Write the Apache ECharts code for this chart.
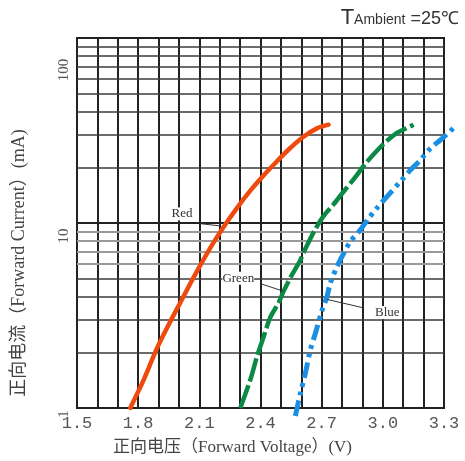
<!DOCTYPE html>
<html><head><meta charset="utf-8">
<script src="https://cdn.jsdelivr.net/npm/echarts@6/dist/echarts.min.js"></script>
<style>html,body{margin:0;padding:0;background:#fff}#c{width:465px;height:461px}</style>
</head><body><div id="c"></div>
<script>
// ---- data ----
const redV   = [1.761,1.827,1.892,1.949,2.007,2.064,2.105,2.162,2.219,2.285,2.350,2.415,2.481,2.546,2.611,2.677,2.734];
const redI   = [1.00,1.42,2.10,2.81,3.72,4.90,5.92,7.60,9.52,12.08,14.96,18.07,21.57,25.43,29.26,32.46,34.0];
const greenV = [2.301,2.350,2.383,2.415,2.448,2.489,2.513,2.554,2.595,2.620,2.665,2.709,2.758,2.808,2.865,2.914,2.971,3.020,3.069,3.102,3.151];
const greenI = [1.00,1.42,1.90,2.42,3.09,3.71,4.27,5.24,6.29,7.25,9.10,10.9,12.6,14.8,17.7,20.9,24.6,27.8,30.7,32.0,34.0];
const blueV  = [2.571,2.595,2.620,2.644,2.669,2.702,2.726,2.742,2.775,2.808,2.840,2.889,2.930,2.971,3.028,3.086,3.135,3.184,3.234,3.283,3.355];
const blueI  = [1.00,1.31,1.68,2.23,2.73,3.63,4.27,5.03,6.16,7.25,8.36,9.64,11.1,12.6,14.8,17.4,20.0,22.6,26.1,28.9,34.0];

const xTickLabels = ['1.5','1.8','2.1','2.4','2.7','3.0','3.3'];
const yTickLabels = ['1','10','100'];
const yMinorDark  = [2,3,4,5,20,30,40,50,60,70,80,90];
const yMinorLight = [6,7,8,9];

const seriesNames = ['Red','Green','Blue'];
// annotation anchors in data units: [text V, text I, leader start V, I, leader end V, I]
const redNote   = [2.015,11.2, 2.105,9.92, 2.203,9.64];
const greenNote = [2.291,5.02, 2.405,4.68, 2.515,4.27];
const blueNote  = [3.022,3.28, 2.728,3.86, 2.899,3.49];

const pairs = (xs, ys) => xs.map((x, i) => [x, ys[i]]);

// layout
const W = 465, L = 77, R = 21, T = 38, B = 45;
const xMin = 1.5, xMax = 3.3, xMaxExt = 3.4;          // blue curve runs past the frame
const plotW = W - L - R;
const extW = plotW * (xMaxExt - xMin) / (xMax - xMin);  // same V-per-pixel scale

const chart = echarts.init(document.getElementById('c'), null, {renderer:'canvas'});
const serif = 'Liberation Serif, "Noto Sans CJK SC", serif';
const yLabelStyle = {fontFamily:'Liberation Serif', fontSize:15, color:'#555'};

const option = {
  animation: false,
  backgroundColor: '#fff',
  title: {
    text: '{t|T}{a|Ambient}{b| =25℃}',
    right: 1, top: 2,
    textStyle: {
      fontWeight:'normal',
      rich: {
        t: {fontFamily:'Liberation Sans', fontWeight:'normal', fontSize:22, color:'#333'},
        a: {fontFamily:'Liberation Sans', fontWeight:'normal', fontSize:14, color:'#333', padding:[5,0,0,0]},
        b: {fontFamily:'Liberation Sans', fontWeight:'normal', fontSize:18, color:'#333', padding:[2,0,0,0]}
      }
    }
  },
  grid: [
    {left:L, right:R, top:T, bottom:B, show:true, borderColor:'#222', borderWidth:2, backgroundColor:'transparent'},
    {left:L, width:extW, top:T, bottom:B, show:false}
  ],
  xAxis: [{
    type:'value', min:xMin, max:xMax, interval:0.1, gridIndex:0,
    axisLine:{show:true, lineStyle:{color:'#222', width:2}},
    axisTick:{show:false},
    splitLine:{show:true, lineStyle:{color:'#222', width:2}},
    axisLabel:{
      fontFamily:'Liberation Mono', fontSize:17, color:'#555', margin:7,
      formatter: v => { const s = v.toFixed(1); return xTickLabels.includes(s) ? s : ''; }
    },
    name:'正向电压（Forward Voltage）(V)', nameLocation:'middle', nameGap:31,
    nameTextStyle:{fontFamily:serif, fontSize:17, color:'#444', padding:[0,56,0,0]}
  }, {
    type:'value', min:xMin, max:xMaxExt, gridIndex:1, show:false
  }],
  yAxis: [{
    type:'log', logBase:10, min:1, max:100, gridIndex:0,
    axisLine:{show:true, lineStyle:{color:'#222', width:2}},
    axisTick:{show:false},
    splitLine:{show:true, lineStyle:{color:'#222', width:2}},
    axisLabel:{
      rotate:90, margin:5, ...yLabelStyle,
      formatter: v => { const s = String(Math.round(v)); const k = yTickLabels.indexOf(s); return k < 0 ? '' : `{p${k}|${s}}`; },
      rich: {
        p0: {...yLabelStyle, padding:[0,12,0,0]},
        p1: {...yLabelStyle, padding:[0,26,0,0]},
        p2: {...yLabelStyle, padding:[0,64,0,0]}
      }
    },
    name:'正向电流（Forward Current）(mA)', nameLocation:'middle', nameGap:49, nameRotate:90,
    nameTextStyle:{fontFamily:serif, fontSize:18, color:'#444', padding:[0,80,0,0]}
  }, {
    type:'log', logBase:10, min:1, max:100, gridIndex:1, show:false
  }],
  series: [
    {
      type:'line', name:'grid', data:[], z:1, silent:true,
      markLine:{
        silent:true, symbol:['none','none'], label:{show:false}, animation:false,
        data: yMinorDark.map(v => ({yAxis:v, lineStyle:{color:'#3a3a3a', width:1.6, type:'solid'}}))
          .concat(yMinorLight.map(v => ({yAxis:v, lineStyle:{color:'#999', width:1.8, type:'solid'}})))
      }
    },
    {type:'line', name:seriesNames[0], data:pairs(redV, redI), showSymbol:false, smooth:0.3, clip:false, z:5,
     lineStyle:{color:'#ef4a0e', width:4.5, cap:'round'}},
    {type:'line', name:seriesNames[1], data:pairs(greenV, greenI), showSymbol:false, smooth:0.3, clip:false, z:5,
     lineStyle:{color:'#0b8a45', width:4.5, type:[24,4]}},
    {type:'line', name:seriesNames[2], data:pairs(blueV, blueI), xAxisIndex:1, yAxisIndex:1,
     showSymbol:false, smooth:0.3, clip:false, z:5,
     lineStyle:{color:'#1a8fe3', width:5, type:[16,5,4,5,4,5]}}
  ]
};
chart.setOption(option);

// annotations positioned via the chart's own coordinate conversion
const notes = [redNote, greenNote, blueNote];
const graphics = [];
notes.forEach((n, i) => {
  const t = chart.convertToPixel({gridIndex:0}, [n[0], n[1]]);
  const a = chart.convertToPixel({gridIndex:0}, [n[2], n[3]]);
  const b = chart.convertToPixel({gridIndex:0}, [n[4], n[5]]);
  graphics.push({type:'line', z:10, shape:{x1:a[0], y1:a[1], x2:b[0], y2:b[1]}, style:{stroke:'#333', lineWidth:1}});
  graphics.push({type:'text', z:11, x:t[0], y:t[1], style:{text:seriesNames[i], font:'13px Liberation Serif', fill:'#333', align:'center', verticalAlign:'middle', backgroundColor:'#fff'}});
});
chart.setOption({graphic: graphics});
</script>
</body></html>
